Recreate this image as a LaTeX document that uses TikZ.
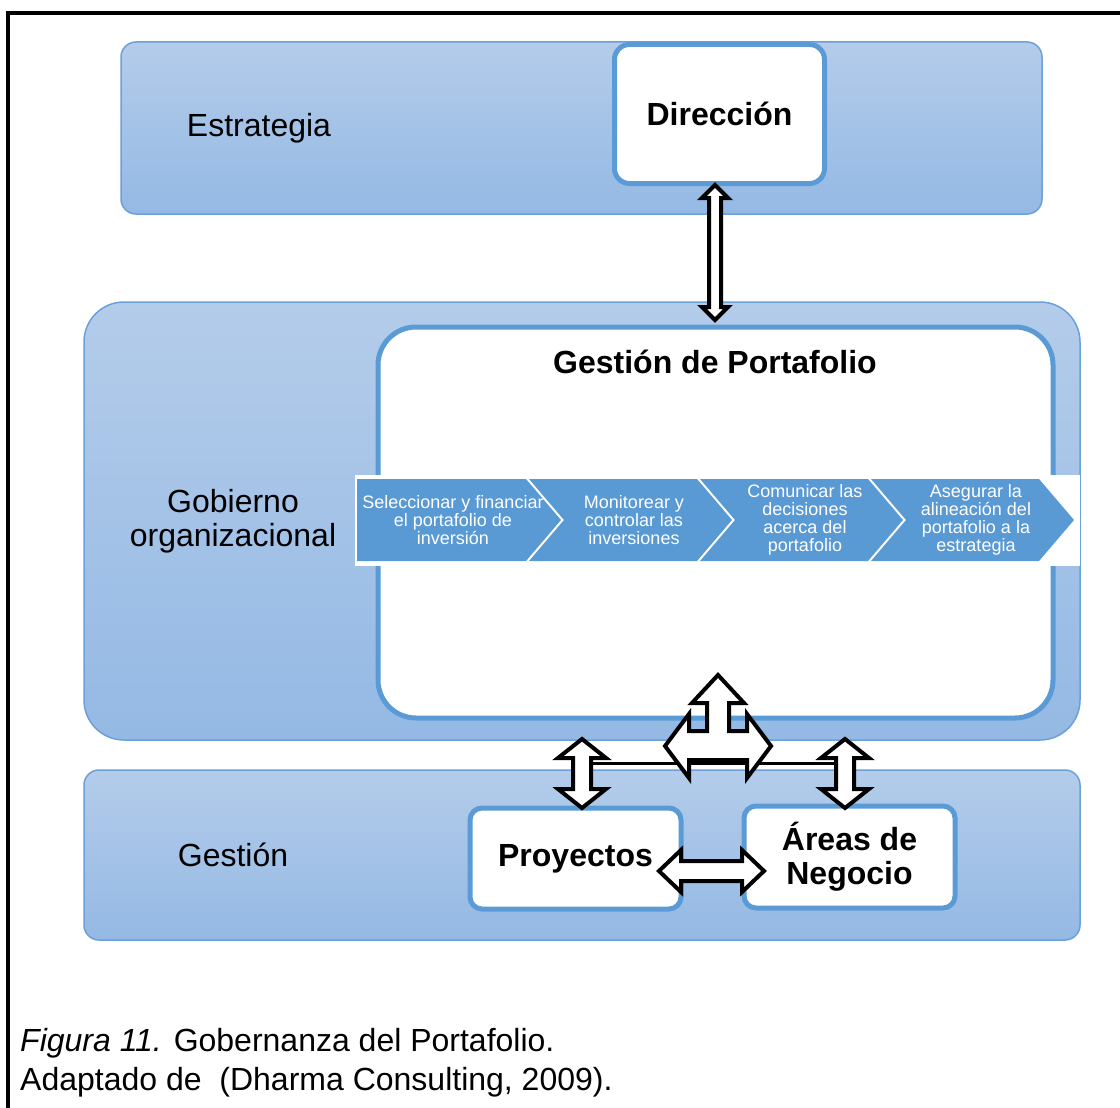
\documentclass[tikz,border=0pt]{standalone}
\usepackage{fontspec}
\setmainfont{Liberation Sans}
\definecolor{bandtop}{RGB}{180,204,234}
\definecolor{bandbot}{RGB}{148,185,228}
\definecolor{bandline}{RGB}{108,160,216}
\definecolor{boxline}{RGB}{91,155,213}
\definecolor{chevfill}{RGB}{89,153,212}

% vertical block double arrow: centre x, top y, bottom y, shaft half width, head half width, head length
\newcommand\vblockarrow[6]{%
  \draw[blockarrow] (#1,#2) -- ({#1+#5},{#2+#6}) -- ({#1+#4},{#2+#6}) -- ({#1+#4},{#3-#6})
    -- ({#1+#5},{#3-#6}) -- (#1,#3) -- ({#1-#5},{#3-#6}) -- ({#1-#4},{#3-#6})
    -- ({#1-#4},{#2+#6}) -- ({#1-#5},{#2+#6}) -- cycle;}
% horizontal block double arrow: centre y, left x, right x, shaft half height, head half height, head length
\newcommand\hblockarrow[6]{%
  \draw[blockarrow] (#2,#1) -- ({#2+#6},{#1-#5}) -- ({#2+#6},{#1-#4}) -- ({#3-#6},{#1-#4})
    -- ({#3-#6},{#1-#5}) -- (#3,#1) -- ({#3-#6},{#1+#5}) -- ({#3-#6},{#1+#4})
    -- ({#2+#6},{#1+#4}) -- ({#2+#6},{#1+#5}) -- cycle;}

\begin{document}
\begin{tikzpicture}[x=1pt,y=-1pt,
  band/.style={draw=bandline, line width=1.5pt, top color=bandtop, bottom color=bandbot,
    inner sep=0pt, outer sep=0pt, anchor=north west},
  whitebox/.style={draw=boxline, line width=5pt, fill=white, inner sep=0pt, outer sep=0pt,
    align=center, font=\bfseries\fontsize{32}{34}\selectfont},
  bandtext/.style={align=center, inner sep=0pt, font=\fontsize{32}{34}\selectfont},
  chev/.style={fill=chevfill, draw=none},
  chevtext/.style={text=white, align=center, inner sep=0pt, font=\fontsize{18}{18}\selectfont},
  blockarrow/.style={draw=black, fill=white, line width=4pt, line join=miter},
  captext/.style={anchor=base west, inner sep=0pt, font=\fontsize{32}{38}\selectfont}]

\useasboundingbox (0,0) rectangle (1120,1108);
\fill[white] (0,0) rectangle (1120,1108);

% outer frame (left and top edges)
\draw[line width=4pt] (8,1112) -- (8,13) -- (1124,13);

% layers
\node[band, rounded corners=15pt, minimum width=921, minimum height=172] (estr) at (121,42) {};
\node[band, rounded corners=40pt, minimum width=996, minimum height=438] (gob) at (84,302) {};
\node[band, rounded corners=15pt, minimum width=996, minimum height=170] (gest) at (84,770) {};

% boxes
\node[whitebox, rounded corners=15pt, minimum width=210, minimum height=139] (dir) at (719.5,114) {Dirección};
\node[whitebox, rounded corners=38pt, minimum width=675, minimum height=391] (gp) at (715.5,522.5) {};
\node[whitebox, rounded corners=12pt, minimum width=211, minimum height=101] (proy) at (575.5,858.5) {Proyectos};
\node[whitebox, rounded corners=12pt, minimum width=211, minimum height=102] (areas) at (849.5,857) {Áreas de\\Negocio};

% band and box labels
\node[bandtext] (lestr) at (259,128) {Estrategia};
\node[bandtext] (lgob) at (233,521) {Gobierno\\organizacional};
\node[bandtext] (lgest) at (233,855) {Gestión};
\node[bandtext, font=\bfseries\fontsize{32}{34}\selectfont] (lgp) at (715,362) {Gestión de Portafolio};

% process strip
\fill[white] (355,475) rectangle (1080,566);
\fill[chev] (357,479) -- (526,479) -- (561,520) -- (526,561) -- (357,561) -- cycle;
\foreach \x in {529,700,871}{
  \fill[chev] (\x,479) -- ({\x+168},479) -- ({\x+203},520) -- ({\x+168},561) -- (\x,561) -- ({\x+35},520) -- cycle;
}
\node[chevtext] (c1) at (453,520) {Seleccionar y financiar\\el portafolio de\\inversión};
\node[chevtext] (c2) at (634,520) {Monitorear y\\controlar las\\inversiones};
\node[chevtext] (c3) at (805,520) {Comunicar las\\decisiones\\acerca del\\portafolio};
\node[chevtext] (c4) at (976,520) {Asegurar la\\alineación del\\portafolio a la\\estrategia};

% link between the two lower arrows
\coordinate (lk) at (590,763);
\coordinate (rk) at (837,763);
\draw[line width=3pt] (lk) -- (rk);

% block arrows
\vblockarrow{715}{185}{320}{6}{13}{13}
\vblockarrow{582}{739}{808}{9}{24}{19}
\vblockarrow{845}{739}{808}{9}{24}{19}
\hblockarrow{871}{659}{764}{10}{21}{22}
\draw[blockarrow] (718,675) -- (744,703) -- (729,703) -- (729,731) -- (747,731) -- (747,714)
  -- (771,746) -- (747,778) -- (747,760) -- (689,760) -- (689,778) -- (665,746)
  -- (689,714) -- (689,731) -- (707,731) -- (707,703) -- (692,703) -- cycle;

% caption
\node[captext] (cap1) at (20,1051) {\textit{Figura 11.} Gobernanza del Portafolio.};
\node[captext] (cap2) at (20,1090) {Adaptado de\ \ (Dharma Consulting, 2009).};

\end{tikzpicture}
\end{document}
